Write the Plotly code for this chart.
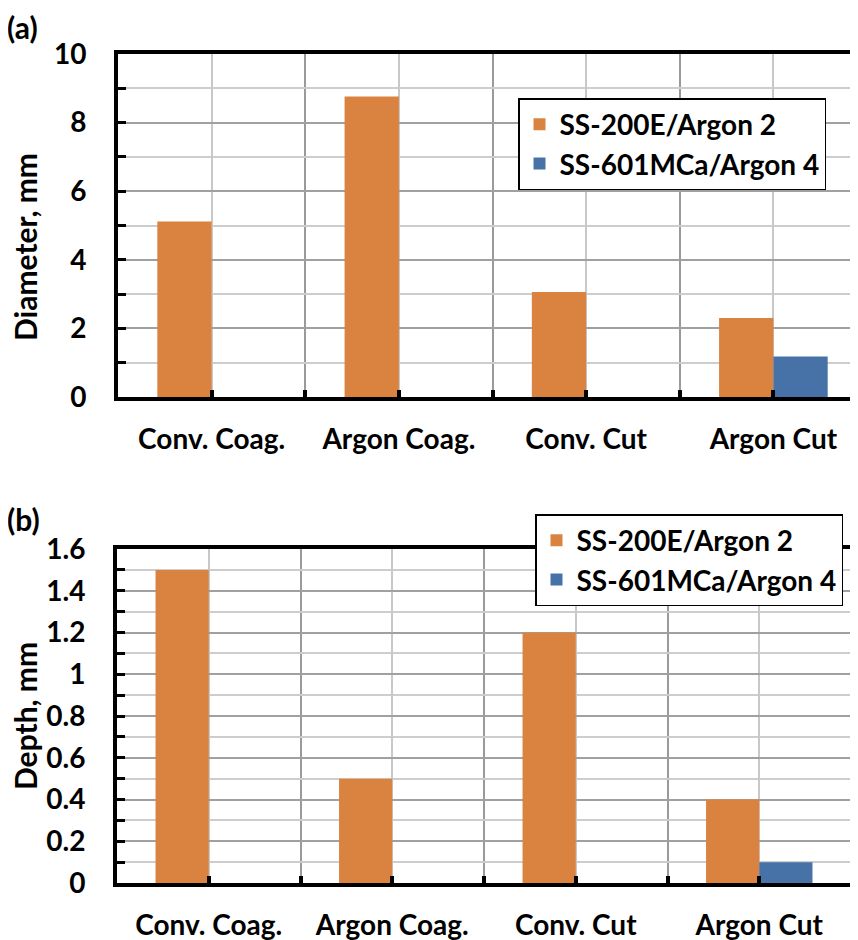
import plotly.graph_objects as go

categories = ["Conv. Coag.", "Argon Coag.", "Conv. Cut", "Argon Cut"]
series_names = ["SS-200E/Argon 2", "SS-601MCa/Argon 4"]
diameter_ss200 = [5.12, 8.76, 3.06, 2.3]
diameter_ss601 = [None, None, None, 1.18]
depth_ss200 = [1.5, 0.5, 1.2, 0.4]
depth_ss601 = [None, None, None, 0.1]
diam_ticks = [0, 2, 4, 6, 8, 10]
depth_ticks = [0, 0.2, 0.4, 0.6, 0.8, 1.0, 1.2, 1.4, 1.6]

ORANGE = "#DA8340"
BLUE = "#4672A8"
FONT = "Lato"
FS = 28
OFF = 8                      # page body margin
W, H = 858 - OFF, 940 - OFF

xpos = list(range(len(categories)))
bounds = [i - 0.5 for i in range(len(categories) + 1)]

fig = go.Figure()

def add_bars(xa, ya, v1, v2):
    fig.add_trace(go.Bar(x=xpos, y=v1, marker=dict(color=ORANGE, line=dict(width=0)),
                         xaxis=xa, yaxis=ya, showlegend=False, name=series_names[0]))
    fig.add_trace(go.Bar(x=xpos, y=v2, marker=dict(color=BLUE, line=dict(width=0)),
                         xaxis=xa, yaxis=ya, showlegend=False, name=series_names[1]))

add_bars("x", "y", diameter_ss200, diameter_ss601)
add_bars("x2", "y2", depth_ss200, depth_ss601)

# legend entries
for lg, xa, ya in [("legend", "x", "y"), ("legend2", "x2", "y2")]:
    for name, col in zip(series_names, [ORANGE, BLUE]):
        fig.add_trace(go.Scatter(x=[None], y=[None], mode="markers", name=name,
                                 marker=dict(symbol="square", size=18, color=col),
                                 xaxis=xa, yaxis=ya, legend=lg, showlegend=True))

def px_x(p):
    return min(1.0, (p - OFF) / W)

def px_y(p):
    return 1 - (p - OFF) / H

tfont = dict(family=FONT, size=FS, color="black", weight="bold")
ttl_font = dict(family=FONT, size=30, color="black", weight="bold")
lab_font = dict(family=FONT, size=30, color="black", weight="bold")

common_x = dict(
    tickmode="array", tickvals=xpos, ticktext=categories,
    showline=True, linecolor="black", linewidth=4, mirror=True,
    ticks="inside", ticklen=7, tickwidth=4, tickcolor="black",
    showgrid=True, gridcolor="#C8C8C8", gridwidth=2,
    minor=dict(tickmode="array", tickvals=bounds, ticks="inside", ticklen=7,
               tickwidth=4, tickcolor="black", showgrid=True,
               gridcolor="#9A9A9A", gridwidth=2),
    tickfont=tfont, ticklabelstandoff=14,
    zeroline=False, fixedrange=True, automargin=False,
)

common_y = dict(
    showline=True, linecolor="black", linewidth=4,
    ticks="inside", ticklen=8, tickwidth=3, tickcolor="black",
    showgrid=True, gridcolor="#A0A0A0", gridwidth=2,
    tickfont=tfont, ticklabelstandoff=22,
    zeroline=False, fixedrange=True, automargin=False,
)

top_right = 3.5 - 9 / 187.0

fig.update_layout(
    template="none",
    width=W, height=H,
    margin=dict(l=0, r=0, t=0, b=0),
    plot_bgcolor="white", paper_bgcolor="white",
    barmode="group", bargap=0.42, bargroupgap=0,
    xaxis=dict(common_x, domain=[px_x(118), 1], range=[-0.5, top_right], anchor="y"),
    yaxis=dict(common_y, domain=[px_y(397), px_y(54)], range=[0, 10], anchor="x",
               tickmode="array", tickvals=diam_ticks, mirror=False,
               minor=dict(dtick=1, tick0=0, ticks="inside", ticklen=8, tickwidth=3,
                          tickcolor="black", showgrid=True, gridcolor="#CDCDCD", gridwidth=2)),
    xaxis2=dict(common_x, domain=[px_x(117), px_x(851)], range=[-0.5, 3.5], anchor="y2"),
    yaxis2=dict(common_y, domain=[px_y(883), px_y(549)], range=[0, 1.6], anchor="x2",
                tickmode="array", tickvals=depth_ticks, mirror=True,
                ticktext=[("%g" % v) for v in depth_ticks],
                minor=dict(dtick=0.1, tick0=0, ticks="inside", ticklen=8, tickwidth=3,
                           tickcolor="black", showgrid=True, gridcolor="#CDCDCD", gridwidth=2)),
    legend=dict(x=px_x(518), y=px_y(98), xanchor="left", yanchor="top",
                bgcolor="white", bordercolor="black", borderwidth=1.5,
                font=tfont, tracegroupgap=0, itemsizing="constant"),
    legend2=dict(x=px_x(535), y=px_y(514), xanchor="left", yanchor="top",
                 bgcolor="white", bordercolor="black", borderwidth=1.5,
                 font=tfont, tracegroupgap=0, itemsizing="constant"),
    annotations=[
        dict(text="(a)", x=px_x(6), y=px_y(OFF), xref="paper", yref="paper",
             xanchor="left", yanchor="top", showarrow=False, font=lab_font, borderpad=0),
        dict(text="(b)", x=px_x(6), y=px_y(519), xref="paper", yref="paper",
             xanchor="left", yanchor="middle", showarrow=False, font=lab_font, borderpad=0),
        dict(text="Diameter, mm", x=px_x(25), y=px_y(247), xref="paper", yref="paper",
             xanchor="center", yanchor="middle", textangle=-90, showarrow=False,
             font=ttl_font),
        dict(text="Depth, mm", x=px_x(25), y=px_y(716), xref="paper", yref="paper",
             xanchor="center", yanchor="middle", textangle=-90, showarrow=False,
             font=ttl_font),
    ],
)

fig.write_html("out.html")
